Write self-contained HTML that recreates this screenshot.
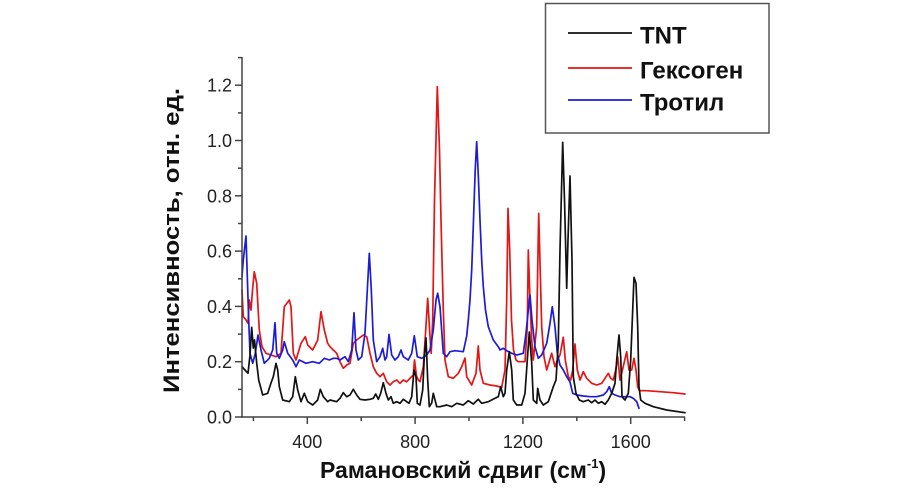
<!DOCTYPE html>
<html>
<head>
<meta charset="utf-8">
<style>
html,body{margin:0;padding:0;background:#fff;}
svg{display:block;}
</style>
</head>
<body>
<svg width="900" height="500" viewBox="0 0 900 500" xmlns="http://www.w3.org/2000/svg">
<rect x="0" y="0" width="900" height="500" fill="#fff"/>

<!-- series -->
<g fill="none" stroke-width="1.7" stroke-linejoin="round" stroke-linecap="round">
<polyline stroke="#e41515" points="242,290 243.3,316.7 246,320 248,323.3 249.3,300 251,310 252.7,288 254.3,271.7 256.7,283.3 259.3,330 262,346.7 266,353.3 271,355 276,356.7 281,353.3 284.3,306.7 289.3,300 291,306.7 293.3,353.3 296,360 301,343.3 305.3,336.7 307.7,345 312.7,350 317.7,340 321,311.7 324.3,330 327.7,343.3 330,346.7 333.3,350 336.7,353.3 340,361.7 343.3,368.3 346.7,365 350,363.3 353.3,343.3 356.7,340 363.3,335 366.7,336.7 370,353.3 373.3,366.7 376.7,373.3 380,376.7 383.3,373.3 386.7,381.7 390,385 393.3,381.7 396.7,380 400,383.3 403.3,380 406.7,381.7 410,378.3 413.3,375 414.5,360 416.5,376 418.3,380 420,381.7 423.3,366.7 425.3,336.7 427.7,298.3 430,336.7 431.2,353.3 432.7,320 434.5,200 437.3,86.7 439.5,150 441,220 443.3,310 445,360 448.3,376.7 453.3,378.3 458.3,373.3 461.7,366.7 465,358 466.7,376.7 471.7,385 476,373.3 478.3,346 480,370 483.3,383.3 490,385 496.7,386 501.7,387.3 505,370 506.7,300 508,208.3 509.7,250 511.5,320 513.5,350 516,360 518.3,361.7 525,361.7 527.3,326.7 528.3,250 530,300 531.7,340 533.3,360 536.7,326.7 538.7,213.3 541.7,326.7 544,356.7 546.7,370 551.7,353.3 555,366.7 557.3,360 560,355 563.3,337.3 565.3,360 568.3,376.7 570.7,380 572.7,370 575,344 577.3,370 580,380 583.3,371.7 586.7,378.3 591.7,383.3 596.7,385 601.7,383.3 605,378.3 608.3,373.3 610.7,378.3 613.3,380 615.7,370 617.7,356.7 620,380 621.7,373.3 624,363.3 626.7,351.7 629,370 631.7,370 634,358.3 636,370 637.7,386.7 639.3,390.7 646.7,390.7 660,391.7 673.3,392.7 685,394"/>
<polyline stroke="#1c1cd8" points="242,276.7 243.3,260 246,236 248.7,320 250,353.3 252.7,363.3 255.3,353.3 258,335 261,350 264.3,363.3 269.3,358.3 272.7,350 275,322.7 276.7,353.3 279.3,358.3 282.7,350 284.3,341.7 287.7,353.3 292.7,360 296,366.7 299.3,360 306,363.3 312.7,361.7 319.3,363.3 324.3,358.3 329.3,360 333.3,358.3 336.7,358.3 340,360 345,356.7 348.3,361.7 351.7,350 354,312.7 356,350 358.3,360 361.7,356.7 365,333.3 367.3,290 369.3,253.3 371.3,290 373.3,340 376.7,361.7 380,356.7 382.7,348.3 385,360 386.7,356.7 389,334.3 391.7,355 395,360 398.3,356.7 401,350 403.3,356.7 408.3,360 411.7,353.3 414.3,335.7 417.3,356.7 421.7,358.3 426.7,355 430,350 433.3,330 436,300 437.7,293.3 440,306.7 443.3,353.3 446.7,356.7 450,351.7 455,350.7 463.3,351.7 466.7,336 468.3,320 470,300 471.7,270 473.5,220 475.2,170 476.7,141.7 478.3,175 480,220 481.7,260 483.3,286.7 485.5,310 488.3,326.7 493.3,340 498.3,346.7 500,350 503.3,348.3 506.7,350.7 511.7,353.3 516.7,355 523.3,353.3 526,333.3 528.3,310 530,295 532,320 535,346.7 538.3,358.3 541.7,355 546.7,343.3 550,323.3 552.3,306.7 555,326.7 557.3,353.3 560,365 563.3,370 566.7,376.7 570,382 572.7,393.3 576.7,395 583.3,396 590,396.7 596.7,396.7 603.3,395 606.7,391.7 609.3,386.7 611.7,393.3 615,395 620,396.7 625,396.7 630,396.7 633.3,398.3 636.7,401.7 639,408.3"/>
<polyline stroke="#111" points="242,366.7 245,370 248,373.3 250,355 251.7,327.3 253.3,348 254.5,340 256.7,363 258.7,380 262.7,395 267.7,393.3 271,383 273.3,376.7 276,363.3 277.7,370 279.3,386.7 282.7,400 289.3,401.7 292.7,396.7 295.3,376.7 297.7,390 301,401.7 304.3,393.3 307.7,401.7 312.7,405 317.7,400 320.3,389.3 323.3,396.7 327.7,401.7 330,400 336.7,401.7 340,398.3 343.3,392.7 346.7,396.7 350,395 353.3,389.3 356.7,395 360,399.3 365,400 370,399.3 373.3,398.3 375.7,394 378.3,399.3 380.7,393.3 383.3,382.7 386,393.3 388.3,400 391,396.7 393.3,403.3 396.7,401.7 400,403.3 403.3,399.3 406.7,401.7 409,403.3 411.7,396.7 414,370 416,376.7 417.3,403.3 420,405 422.7,390 424.3,356.7 426,338 427.7,380 429.3,406.7 431.7,403 433.3,393.3 436.7,406.7 440,406.7 446.7,405 451.7,406.7 456.7,403.3 463.3,405 468.3,400.7 473.3,404 478.3,399.3 481.7,403.3 488.3,401.7 495,398.3 498.3,396.7 500.7,386.7 503.3,396.7 505,393.3 506.7,370 509.3,351.7 511.7,370 513.3,400 516.7,405 521.7,405 525,393.3 527.3,360 529.3,332 531.7,363 533.3,400 536.7,403.3 537.7,388.3 540,400 543.3,405 548.3,401.7 553.3,386.7 556,380 558.3,343.3 560,250 562.7,142.3 564.5,200 566.7,288.3 568,240 570,176 572,260 573.3,376.7 576,393.3 579.3,400 583.3,401.7 588.3,400 591.7,402.7 595,400 598.3,403.3 601.7,401.7 605,404.3 608.3,400 611.7,393.3 615,383.3 616.7,360 619,335 620.7,356.7 622,396.7 625,400 628.3,393.3 630.7,360 632.7,310 634,277.3 636,283.3 637.7,326.7 639,386.7 640.7,400 645,403.3 653.3,406.7 666.7,410 685,412.7"/>
</g>

<!-- axes -->
<g stroke="#444" stroke-width="1.5" fill="none">
<line x1="242" y1="57" x2="242" y2="417.7"/>
<line x1="241.3" y1="417" x2="685" y2="417"/>
<line x1="235" y1="417" x2="242" y2="417"/>
<line x1="235" y1="361.7" x2="242" y2="361.7"/>
<line x1="235" y1="306.4" x2="242" y2="306.4"/>
<line x1="235" y1="251.1" x2="242" y2="251.1"/>
<line x1="235" y1="195.8" x2="242" y2="195.8"/>
<line x1="235" y1="140.5" x2="242" y2="140.5"/>
<line x1="235" y1="85.2" x2="242" y2="85.2"/>
<line x1="238" y1="389.4" x2="242" y2="389.4"/>
<line x1="238" y1="334.1" x2="242" y2="334.1"/>
<line x1="238" y1="278.8" x2="242" y2="278.8"/>
<line x1="238" y1="223.5" x2="242" y2="223.5"/>
<line x1="238" y1="168.2" x2="242" y2="168.2"/>
<line x1="238" y1="112.9" x2="242" y2="112.9"/>
<line x1="238" y1="57.6" x2="242" y2="57.6"/>
<line x1="307.3" y1="417" x2="307.3" y2="424"/>
<line x1="415.1" y1="417" x2="415.1" y2="424"/>
<line x1="522.9" y1="417" x2="522.9" y2="424"/>
<line x1="630.7" y1="417" x2="630.7" y2="424"/>
<line x1="253.4" y1="417" x2="253.4" y2="421"/>
<line x1="361.2" y1="417" x2="361.2" y2="421"/>
<line x1="469" y1="417" x2="469" y2="421"/>
<line x1="576.8" y1="417" x2="576.8" y2="421"/>
<line x1="684.6" y1="417" x2="684.6" y2="421"/>
</g>

<!-- tick labels -->
<g font-family="Liberation Sans, Arial, sans-serif" font-size="18" fill="#222">
<g text-anchor="end">
<text x="232" y="423.5">0.0</text>
<text x="232" y="368.2">0.2</text>
<text x="232" y="312.9">0.4</text>
<text x="232" y="257.6">0.6</text>
<text x="232" y="202.3">0.8</text>
<text x="232" y="147">1.0</text>
<text x="232" y="91.7">1.2</text>
</g>
<g text-anchor="middle">
<text x="307.3" y="448">400</text>
<text x="415.1" y="448">800</text>
<text x="522.9" y="448">1200</text>
<text x="630.7" y="448">1600</text>
</g>
</g>

<!-- axis titles -->
<text x="320" y="478" font-family="Liberation Sans, 'Noto Sans CJK SC', sans-serif" font-size="23" font-weight="bold" fill="#111">Рамановский сдвиг (см<tspan font-size="13" dy="-10">-1</tspan><tspan dy="10">)</tspan></text>
<text transform="translate(179,240.5) rotate(-90)" text-anchor="middle" font-family="Liberation Sans, 'Noto Sans CJK SC', sans-serif" font-size="22" font-weight="bold" fill="#111" textLength="305" lengthAdjust="spacingAndGlyphs">Интенсивность, отн. ед.</text>

<!-- legend -->
<rect x="545.5" y="3.5" width="223.5" height="129.5" fill="#fff" stroke="#555" stroke-width="1.5"/>
<line x1="568" y1="33" x2="632" y2="33" stroke="#111" stroke-width="1.7"/>
<line x1="568" y1="68" x2="632" y2="68" stroke="#e41515" stroke-width="1.7"/>
<line x1="568" y1="100" x2="632" y2="100" stroke="#1c1cd8" stroke-width="1.7"/>
<g font-family="Liberation Sans, 'Noto Sans CJK SC', sans-serif" font-size="24" font-weight="bold" fill="#111">
<text x="640" y="43.5">TNT</text>
<text x="640" y="78.5">Гексоген</text>
<text x="640" y="110.5">Тротил</text>
</g>
</svg>
</body>
</html>
